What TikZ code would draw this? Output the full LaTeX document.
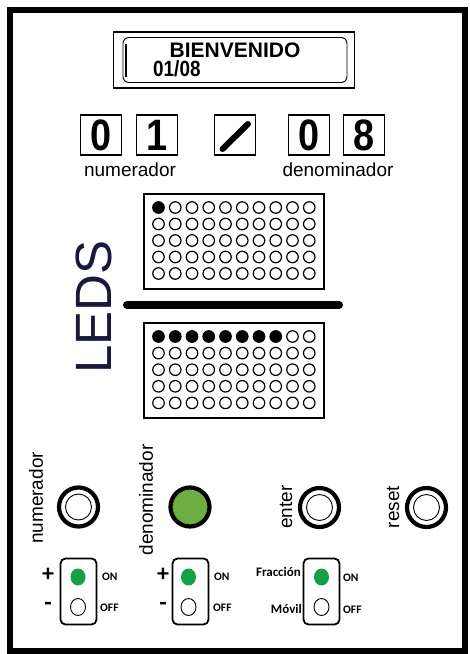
\documentclass[tikz,border=0pt]{standalone}
\usepackage{fontspec}
\usetikzlibrary{shapes.geometric}
\setmainfont{Liberation Sans}
\newfontfamily\calib{Carlito}
\newcommand{\narrowdig}[1]{\scalebox{0.86}[1]{#1}}
\begin{document}
\begin{tikzpicture}[x=1pt,y=-1pt,
  digitbox/.style={draw,line width=1.8,minimum width=41,minimum height=40,inner sep=0,font=\fontsize{44}{44}\selectfont\bfseries},
  led/.style={circle,draw,line width=1.2,minimum size=11.5,inner sep=0},
  ledon/.style={led,fill=black},
  matrixbox/.style={draw,line width=1.6},
  lbl/.style={font=\fontsize{19}{19}\selectfont,inner sep=0},
  vlbl/.style={lbl,rotate=90},
  btnring/.style={circle,draw,line width=4.2,minimum size=39,inner sep=0},
  swbox/.style={draw,line width=1.8,rounded corners=5,minimum width=36,minimum height=66,inner sep=0},
  swon/.style={ellipse,fill=swgreen,minimum width=15,minimum height=17,inner sep=0},
  swoff/.style={ellipse,draw,line width=0.9,minimum width=15,minimum height=17,inner sep=0},
  swlbl/.style={font=\calib\fontsize{11.5}{11.5}\selectfont\bfseries,inner sep=0},
  pmlbl/.style={font=\calib\fontsize{24}{24}\selectfont\bfseries,inner sep=0}
]
\definecolor{swgreen}{RGB}{20,160,70}
\definecolor{btngreen}{RGB}{110,172,68}
\definecolor{ledsnavy}{RGB}{25,25,60}
\useasboundingbox (0,0) rectangle (470,654);
\fill[white] (0,0) rectangle (470,654);
% outer frame
\draw[line width=6] (10,10) rectangle (465,651);

% title box
\node[draw,line width=1.8,minimum width=241,minimum height=56,inner sep=0] (title) at (234,60) {};
\node[draw,line width=0.9,rounded corners=6,minimum width=224,minimum height=45,inner sep=0] (titlein) at (235,60) {};
\coordinate (bartop) at (126,44);
\coordinate (barbot) at (126,77);
\draw[line width=2.6] (bartop) -- (barbot);
\node[inner sep=0,font=\fontsize{21}{21}\selectfont\bfseries] (welcome) at (235,50) {BIENVENIDO};
\node[inner sep=0,anchor=west,font=\fontsize{22}{22}\selectfont\bfseries] (date) at (153,69) {\scalebox{0.86}[1]{01/08}};

% digit boxes
\node[digitbox] (d1) at (101,135) {\narrowdig{0}};
\node[digitbox] (d2) at (157,135) {\narrowdig{1}};
\node[digitbox] (slashbox) at (235,135) {};
\coordinate (sa) at (222.5,149);
\coordinate (sb) at (248,124);
\draw[line width=6,line cap=round] (sa) -- (sb);
\node[digitbox] (d3) at (309,135) {\narrowdig{0}};
\node[digitbox] (d4) at (364,135) {\narrowdig{8}};
\node[lbl] (numlbl) at (130,170) {numerador};
\node[lbl] (denlbl) at (338,170) {denominador};

% LED matrices
\node[matrixbox,minimum width=180,minimum height=95,inner sep=0] (topm) at (234,241.5) {};
\node[matrixbox,minimum width=180,minimum height=95,inner sep=0] (botm) at (234,370.5) {};
\foreach \r in {0,...,4}{
  \foreach \c in {0,...,9}{
    \pgfmathsetmacro{\xx}{158.5+\c*16.75}
    \pgfmathsetmacro{\ya}{207.5+\r*16.5}
    \pgfmathsetmacro{\yb}{336.5+\r*16.6}
    \ifnum\r=0 \ifnum\c=0
      \node[ledon] (t-\r-\c) at (\xx,\ya) {};
    \else
      \node[led] (t-\r-\c) at (\xx,\ya) {};
    \fi\else
      \node[led] (t-\r-\c) at (\xx,\ya) {};
    \fi
    \ifnum\r=0 \ifnum\c<8
      \node[ledon] (b-\r-\c) at (\xx,\yb) {};
    \else
      \node[led] (b-\r-\c) at (\xx,\yb) {};
    \fi\else
      \node[led] (b-\r-\c) at (\xx,\yb) {};
    \fi
  }
}
% fraction bar
\coordinate (fba) at (127,305);
\coordinate (fbb) at (339,305);
\draw[line width=8,line cap=round] (fba) -- (fbb);
% LEDS label
\node[rotate=90,inner sep=0,text=ledsnavy,font=\fontsize{51}{51}\selectfont] (leds) at (94,307) {LEDS};

% buttons
\node[btnring] (bnum) at (78.5,507) {};
\node[circle,draw,line width=0.9,minimum size=26,inner sep=0] (bnumin) at (bnum) {};
\node[btnring,fill=btngreen] (bden) at (190,507) {};
\node[btnring] (benter) at (319.5,507.5) {};
\node[circle,draw,line width=0.9,minimum size=26,inner sep=0] (benterin) at (benter) {};
\node[btnring] (breset) at (426.5,507.5) {};
\node[circle,draw,line width=0.9,minimum size=26,inner sep=0] (bresetin) at (breset) {};
\node[vlbl] (vnum) at (36,498) {numerador};
\node[vlbl] (vden) at (146,500) {denominador};
\node[vlbl] (venter) at (286,507) {enter};
\node[vlbl] (vreset) at (393,507) {reset};

% switches
\node[swbox] (sw1) at (78.5,591.5) {};
\node[swon] (sw1on) at (78,577) {};
\node[swoff] (sw1off) at (78,607) {};
\node[pmlbl] (p1) at (48,575) {+};
\node[pmlbl] (m1) at (48,606) {-};
\node[swlbl,anchor=west] (on1) at (102,577) {ON};
\node[swlbl,anchor=west] (off1) at (100,608) {OFF};

\node[swbox] (sw2) at (190.5,591.5) {};
\node[swon] (sw2on) at (188.5,577) {};
\node[swoff] (sw2off) at (188.5,607) {};
\node[pmlbl] (p2) at (163,575) {+};
\node[pmlbl] (m2) at (163,606) {-};
\node[swlbl,anchor=west] (on2) at (214,577) {ON};
\node[swlbl,anchor=west] (off2) at (213,608) {OFF};

\node[swbox] (sw3) at (321.5,591.5) {};
\node[swon] (sw3on) at (321.5,577) {};
\node[swoff] (sw3off) at (321.5,607) {};
\node[swlbl,anchor=east,font=\calib\fontsize{13}{13}\selectfont\bfseries] (frac) at (301,572) {Fracción};
\node[swlbl,anchor=east,font=\calib\fontsize{13}{13}\selectfont\bfseries] (movil) at (302,609) {Móvil};
\node[swlbl,anchor=west] (on3) at (343,578) {ON};
\node[swlbl,anchor=west] (off3) at (343,610) {OFF};
\end{tikzpicture}
\end{document}
